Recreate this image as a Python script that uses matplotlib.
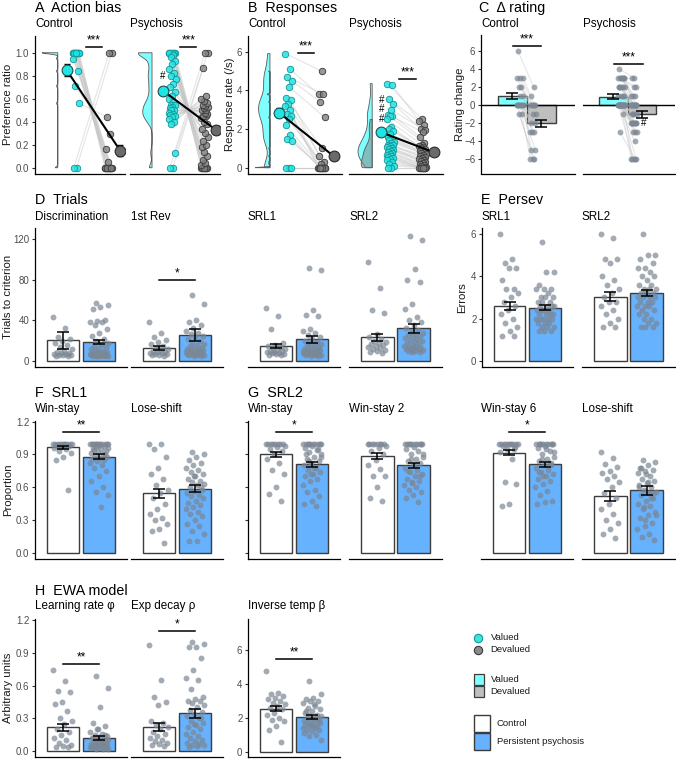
import numpy as np
import matplotlib
matplotlib.use('Agg')
import matplotlib.pyplot as plt
from matplotlib.colors import to_rgba
from matplotlib.patches import Rectangle

plt.rcParams['font.family'] = ['Liberation Sans', 'DejaVu Sans']

# ---------------- data ----------------
# A  Action bias (preference ratio), paired valued / devalued
A_ctrl_val = [1, 1, 1, 1, 1, 1, 1, 1, 1, 1, 1, 1, 1, 0.95, 0.84, 0.71, 0.56, 0, 0]
A_ctrl_dev = [0, 0, 0, 0, 0, 0, 0, 0, 0, 0, 0, 0, 0, 0.05, 0.16, 0.29, 0.44, 1, 1]
A_psy_val = [1, 1, 1, 1, 1, 1, 1, 1, 1, 0.98, 0.96, 0.93, 0.90, 0.86, 0.82, 0.80, 0.77, 0.73,
             0.70, 0.66, 0.62, 0.60, 0.57, 0.55, 0.55, 0.53, 0.52, 0.50, 0.50, 0.48, 0.47,
             0.46, 0.45, 0.44, 0.42, 0.40, 0.38, 0.13, 0, 0]
A_psy_dev = [0, 0, 0, 0, 0, 0, 0, 0, 0, 0.02, 0.04, 0.07, 0.10, 0.14, 0.18, 0.20, 0.23, 0.27,
             0.30, 0.34, 0.38, 0.40, 0.43, 0.45, 0.45, 0.47, 0.48, 0.50, 0.50, 0.52, 0.53,
             0.54, 0.55, 0.56, 0.58, 0.60, 0.62, 0.87, 1, 1]
A_means = {'Control': [0.85, 0.15], 'Psychosis': [0.67, 0.33]}
A_se = {'Control': [0.05, 0.05], 'Psychosis': [0.035, 0.035]}

# B  Responses (response rate /s)
B_ctrl_val = [5.9, 5.1, 4.7, 4.5, 4.2, 3.6, 3.5, 3.3, 3.2, 3.0, 2.8, 2.7, 2.5, 2.2, 1.7, 1.5,
              1.4, 0, 0, 0]
B_ctrl_dev = [5.0, 3.8, 3.8, 3.4, 2.6, 1.0, 0.6, 0.3, 0.2, 0, 0, 0, 0, 0, 0, 0, 0, 0, 0, 0]
B_psy_val = [4.35, 4.3, 3.55, 3.3, 3.0, 2.75, 2.7, 2.65, 2.5, 2.1, 2.0, 1.9, 1.75, 1.6, 1.5,
             1.45, 1.35, 1.3, 1.2, 1.15, 1.1, 1.05, 1.0, 0.95, 0.9, 0.85, 0.8, 0.75, 0.7,
             0.65, 0.6, 0.55, 0.5, 0.45, 0.4, 0.3, 0.2, 0.1, 0, 0]
B_psy_dev = [2.5, 2.4, 2.2, 2.0, 1.95, 1.85, 1.6, 1.3, 1.2, 1.1, 1.05, 1.0, 0.95, 0.9, 0.85,
             0.8, 0.75, 0.7, 0.65, 0.6, 0.55, 0.5, 0.45, 0.4, 0.35, 0.3, 0.25, 0.2, 0.15,
             0.1, 0.05, 0, 0, 0, 0, 0, 0, 0, 0, 0]
B_means = {'Control': [2.85, 0.6], 'Psychosis': [1.83, 0.8]}
B_se = {'Control': [0.25, 0.2], 'Psychosis': [0.15, 0.1]}

# C  Delta rating
C_ctrl_val = [6, 3, 3, 3, 2, 2, 1, 1, 0, 0, 0, 0, 0, 0, 0, 0, 0, -1, -1]
C_ctrl_dev = [2, 1, 0, 0, 0, 0, 0, -1, -1, -2, -2, -3, -3, -3, -5, -5, -6, -6, -6]
C_psy_val = [4, 3, 3, 3, 3, 3, 3, 3, 2, 2, 2, 2, 2, 2, 1, 1, 1, 1, 0, 0, 0, 0, 0, 0, 0, 0,
             0, 0, 0, 0, 0, 0, 0, 0, 0, 0, 0, 0, -1, -3]
C_psy_dev = [3, 3, 2, 2, 1, 1, 1, 0, 0, 0, 0, 0, 0, 0, 0, 0, 0, 0, 0, -1, -1, -1, -1, -2,
             -2, -2, -2, -2, -2, -2, -2, -3, -3, -3, -4, -6, -6, -6, -6, -6]
C_means = {'Control': [1.0, -2.05], 'Psychosis': [0.93, -1.05]}
C_se = {'Control': [0.3, 0.35], 'Psychosis': [0.25, 0.35]}

# D  Trials to criterion (control, psychosis)
D_disc = ([43, 33, 24, 22, 20, 18, 16, 14, 12, 10, 9, 8, 8, 7, 7, 6, 6, 6, 5, 5],
          [57, 55, 53, 51, 40, 39, 38, 38, 35, 32, 28, 25, 22, 20, 18, 16, 15, 14, 12, 12,
           10, 10, 9, 9, 8, 8, 8, 7, 7, 7, 6, 6, 6, 6, 5, 5, 5, 5, 5, 5])
D_rev = ([38, 28, 24, 21, 19, 17, 15, 13, 12, 11, 10, 9, 9, 8, 8, 7, 7, 6, 6, 5],
         [65, 56, 40, 38, 35, 33, 30, 28, 27, 25, 24, 22, 20, 18, 17, 16, 15, 14, 13, 12,
          12, 11, 11, 10, 10, 10, 9, 9, 9, 8, 8, 8, 7, 7, 7, 6, 6, 6, 5, 5])
D_srl1 = ([52, 44, 32, 18, 16, 15, 14, 13, 12, 11, 10, 10, 9, 9, 8, 8, 7, 7, 6, 6],
          [92, 90, 50, 45, 44, 32, 30, 28, 26, 24, 22, 20, 19, 18, 17, 16, 15, 14, 13, 12,
           12, 11, 11, 10, 10, 10, 9, 9, 9, 8, 8, 8, 7, 7, 7, 6, 6, 6, 5, 5])
D_srl2 = ([98, 72, 50, 47, 27, 24, 22, 20, 19, 18, 17, 16, 15, 14, 13, 12, 11, 10, 9, 8],
          [123, 119, 91, 80, 78, 56, 51, 43, 40, 38, 35, 33, 31, 29, 28, 27, 26, 25, 24,
           23, 22, 21, 20, 19, 18, 17, 16, 15, 15, 14, 13, 13, 12, 12, 11, 11, 10, 10, 9, 9])
D_means = [(20.4, 18.4), (13.1, 25.6), (14.8, 21.4), (23.3, 32.2)]
D_se = [(8.2, 2.0), (2.0, 5.5), (2.3, 3.2), (3.7, 4.2)]

# E  Perseverative errors
E_srl1 = ([6.0, 4.8, 4.6, 4.4, 4.4, 3.8, 3.4, 3.4, 3.2, 3.0, 2.8, 2.6, 2.4, 2.2, 2.0, 1.8,
           1.6, 1.4, 1.2, 1.2],
          [5.6, 4.2, 4.2, 3.6, 3.4, 3.4, 3.4, 3.2, 3.0, 3.0, 3.0, 2.8, 2.8, 2.8, 2.6, 2.6,
           2.6, 2.6, 2.4, 2.4, 2.4, 2.4, 2.2, 2.2, 2.2, 2.2, 2.0, 2.0, 2.0, 2.0, 2.0, 1.8,
           1.8, 1.8, 1.6, 1.6, 1.6, 1.4, 1.4, 1.4])
E_srl2 = ([6.0, 5.8, 4.8, 4.8, 4.6, 4.0, 3.8, 3.6, 3.4, 3.2, 3.0, 2.8, 2.8, 2.6, 2.4, 2.2,
           2.0, 1.8, 1.6, 1.6],
          [6.0, 5.0, 5.0, 4.8, 4.6, 4.4, 4.4, 4.2, 4.0, 4.0, 3.8, 3.6, 3.6, 3.4, 3.4, 3.4,
           3.2, 3.2, 3.2, 3.0, 3.0, 3.0, 3.0, 2.8, 2.8, 2.8, 2.6, 2.6, 2.6, 2.4, 2.4, 2.2,
           2.2, 2.0, 2.0, 1.8, 1.8, 1.6, 1.6, 1.6])
E_means = [(2.6, 2.51), (3.02, 3.22)]
E_se = [(0.2, 0.13), (0.21, 0.14)]

# F / G  Win-stay, lose-shift proportions
F_ws = ([1, 1, 1, 1, 1, 1, 1, 1, 1, 1, 0.99, 0.98, 0.97, 0.96, 0.95, 0.93, 0.91, 0.88, 0.85,
         0.58],
        [1, 1, 1, 1, 1, 1, 1, 1, 1, 1, 1, 1, 0.98, 0.97, 0.96, 0.95, 0.94, 0.93, 0.92, 0.91,
         0.90, 0.89, 0.88, 0.87, 0.86, 0.85, 0.84, 0.82, 0.80, 0.78, 0.75, 0.70, 0.66, 0.60,
         0.56, 0.53, 0.42, 0.95, 0.9, 0.98])
F_ls = ([1.0, 1.0, 0.95, 0.88, 0.78, 0.72, 0.68, 0.62, 0.58, 0.55, 0.50, 0.45, 0.40, 0.36,
         0.32, 0.30, 0.27, 0.22, 0.20, 0.09],
        [0.92, 0.90, 0.88, 0.85, 0.82, 0.80, 0.78, 0.76, 0.74, 0.72, 0.70, 0.68, 0.66, 0.65,
         0.63, 0.62, 0.60, 0.58, 0.57, 0.55, 0.53, 0.52, 0.50, 0.48, 0.46, 0.44, 0.42, 0.40,
         0.38, 0.36, 0.34, 0.30, 0.27, 0.25, 0.20, 0.18, 0.11, 0.11, 0.60, 0.70])
G_ws = ([1, 1, 1, 1, 1, 1, 1, 1, 0.98, 0.97, 0.95, 0.93, 0.90, 0.86, 0.82, 0.76, 0.72, 0.60,
         0.54, 0.48],
        [1, 1, 1, 1, 1, 1, 1, 1, 1, 1, 0.98, 0.96, 0.94, 0.92, 0.90, 0.88, 0.86, 0.84, 0.82,
         0.80, 0.78, 0.76, 0.74, 0.72, 0.70, 0.68, 0.66, 0.62, 0.58, 0.56, 0.52, 0.48, 0.45,
         0.43, 0.84, 0.88, 0.78, 0.90, 0.95, 0.72])
G_ws2 = ([1, 1, 1, 1, 1, 1, 1, 1, 0.98, 0.96, 0.93, 0.90, 0.85, 0.80, 0.77, 0.70, 0.70, 0.60,
          0.50, 0.48],
         [1, 1, 1, 1, 1, 1, 1, 1, 1, 1, 0.97, 0.95, 0.93, 0.90, 0.88, 0.86, 0.84, 0.82, 0.80,
          0.78, 0.76, 0.74, 0.72, 0.70, 0.68, 0.66, 0.64, 0.62, 0.60, 0.58, 0.56, 0.53, 0.50,
          0.47, 0.86, 0.90, 0.80, 0.75, 0.70, 0.65])
G_ws6 = ([1, 1, 1, 1, 1, 1, 1, 1, 1, 1, 0.98, 0.97, 0.95, 0.92, 0.86, 0.65, 0.63, 0.45,
          0.43, 0.95],
         [1, 1, 1, 1, 1, 1, 1, 1, 1, 1, 0.98, 0.96, 0.93, 0.90, 0.88, 0.86, 0.84, 0.82, 0.80,
          0.78, 0.76, 0.74, 0.72, 0.70, 0.68, 0.66, 0.63, 0.60, 0.57, 0.53, 0.48, 0.47, 0.45,
          0.82, 0.86, 0.92, 0.95, 0.74, 0.80, 0.70])
G_ls = ([0.92, 0.87, 0.81, 0.79, 0.75, 0.73, 0.70, 0.68, 0.65, 0.60, 0.55, 0.50, 0.45, 0.40,
         0.36, 0.30, 0.28, 0.22, 0.18, 0.14],
        [0.85, 0.83, 0.80, 0.78, 0.76, 0.75, 0.73, 0.70, 0.68, 0.66, 0.64, 0.62, 0.60, 0.58,
         0.56, 0.55, 0.53, 0.50, 0.48, 0.45, 0.43, 0.40, 0.38, 0.35, 0.32, 0.28, 0.25, 0.22,
         0.18, 0.15, 0.12, 0.72, 0.60, 0.50, 0.42, 0.35, 0.65, 0.78, 0.55, 0.30])
F_means = [(0.965, 0.88), (0.545, 0.59)]
F_se = [(0.015, 0.02), (0.045, 0.03)]
G_means = [(0.90, 0.81), (0.885, 0.80), (0.918, 0.81), (0.52, 0.575)]
G_se = [(0.022, 0.022), (0.025, 0.02), (0.02, 0.022), (0.045, 0.04)]

# H  EWA model parameters
H_lr = ([0.74, 0.64, 0.55, 0.54, 0.45, 0.43, 0.37, 0.30, 0.28, 0.25, 0.20, 0.18, 0.15, 0.12,
         0.10, 0.08, 0.06, 0.05, 0.04, 0.04],
        [0.69, 0.58, 0.40, 0.26, 0.23, 0.20, 0.18, 0.16, 0.15, 0.14, 0.13, 0.12, 0.11, 0.10,
         0.10, 0.09, 0.09, 0.08, 0.08, 0.07, 0.07, 0.06, 0.06, 0.06, 0.05, 0.05, 0.05, 0.04,
         0.04, 0.04, 0.03, 0.03, 0.03, 0.02, 0.02, 0.02, 0.10, 0.12, 0.15, 0.20])
H_decay = ([0.97, 0.65, 0.50, 0.45, 0.42, 0.28, 0.26, 0.24, 0.22, 0.20, 0.18, 0.16, 0.14,
            0.12, 0.10, 0.09, 0.08, 0.07, 0.06, 0.05],
           [1.0, 0.98, 0.95, 0.95, 0.85, 0.74, 0.67, 0.65, 0.57, 0.50, 0.48, 0.46, 0.46, 0.44,
            0.42, 0.40, 0.38, 0.36, 0.34, 0.32, 0.30, 0.28, 0.26, 0.24, 0.22, 0.20, 0.18,
            0.16, 0.14, 0.12, 0.10, 0.09, 0.08, 0.07, 0.06, 0.06, 0.05, 0.04, 0.30, 0.25])
H_beta = ([4.8, 3.5, 3.4, 3.3, 3.2, 3.1, 3.0, 2.9, 2.8, 2.7, 2.6, 2.5, 2.3, 2.2, 2.0, 1.9,
           1.8, 1.5, 1.3, 0.6],
          [4.2, 3.4, 3.2, 3.1, 3.0, 3.0, 2.9, 2.7, 2.6, 2.5, 2.4, 2.3, 2.2, 2.2, 2.1, 2.0,
           2.0, 1.9, 1.9, 1.8, 1.8, 1.7, 1.7, 1.6, 1.6, 1.5, 1.5, 1.4, 1.4, 1.3, 1.3, 1.2,
           1.1, 1.0, 0.9, 0.7, 2.8, 2.4, 2.0, 1.6])
H_means = [(0.218, 0.121), (0.224, 0.348), (2.54, 2.05)]
H_se = [(0.035, 0.02), (0.035, 0.04), (0.14, 0.11)]

# ---------------- styling ----------------
CYAN = '#22e3e3'
CYAN_EDGE = '#179393'
GREY = '#7f7f7f'
GREY_EDGE = '#3a3a3a'
PT = '#7b8794'
BLUE = '#66b2ff'
BAR_EDGE = '#3d3d3d'
TICK_C = '#4d4d4d'

W, H = 676, 760
fig = plt.figure(figsize=(W / 100, H / 100), dpi=100)


def add_ax(x0, x1, y0, y1):
    return fig.add_axes([x0 / W, 1 - y1 / H, (x1 - x0) / W, (y1 - y0) / H])


def style(ax, ylim, ticks=None, labels=True, spine=True, fmt=None):
    ax.set_ylim(*ylim)
    for s in ['top', 'right']:
        ax.spines[s].set_visible(False)
    ax.spines['bottom'].set_linewidth(0.9)
    ax.set_xticks([])
    if spine:
        ax.spines['left'].set_linewidth(0.9)
        ax.set_yticks(ticks)
        if labels:
            if fmt:
                ax.set_yticklabels([fmt.format(t) for t in ticks])
        else:
            ax.set_yticklabels([])
        ax.tick_params(axis='y', length=2.5, width=0.8, color='#333333',
                       labelsize=7, labelcolor=TICK_C, pad=1.5)
    else:
        ax.spines['left'].set_visible(False)
        ax.set_yticks([])
    ax.patch.set_alpha(0)


def jit(n, w, phase=0.0):
    k = (np.arange(n) * 0.6180339887 + phase) % 1.0
    return (k - 0.5) * 2 * w


def half_violin(ax, data, edge, width, bw, color, alpha, z=1):
    d = np.asarray(data, float)
    y = np.linspace(d.min(), d.max(), 300)
    dens = np.exp(-0.5 * ((y[:, None] - d[None, :]) / bw) ** 2).sum(1)
    dens = dens / dens.max() * width
    xs = np.concatenate([[edge], edge - dens, [edge]])
    ys = np.concatenate([[y[0]], y, [y[-1]]])
    ax.fill(xs, ys, facecolor=to_rgba(color, alpha), edgecolor='#5a5a5a', lw=0.6, zorder=z)


def paired(ax, val, dev, m, se):
    val = np.asarray(val, float)
    dev = np.asarray(dev, float)
    n = len(val)
    xv = 1.0 + jit(n, 0.11, 0.1)
    xd = 2.0 + jit(n, 0.11, 0.45)
    for a, b, c, d in zip(xv, val, xd, dev):
        ax.plot([a, c], [b, d], color='#c4c4c4', lw=0.8, alpha=0.45, zorder=1)
    ax.scatter(xv, val, s=22, facecolor=to_rgba(CYAN, 0.85), edgecolor=CYAN_EDGE, lw=0.6, zorder=3)
    ax.scatter(xd, dev, s=22, facecolor=to_rgba(GREY, 0.8), edgecolor=GREY_EDGE, lw=0.6, zorder=3)
    mx = [0.72, 2.35]
    ax.plot(mx, m, color='black', lw=1.5, zorder=4)
    ax.errorbar(mx, m, yerr=se, fmt='none', ecolor='black', elinewidth=1, capsize=2, zorder=4)
    ax.scatter(mx[0], m[0], s=60, facecolor='#1fe5e5', edgecolor='#1f4f4f', lw=0.8, zorder=5)
    ax.scatter(mx[1], m[1], s=60, facecolor='#6a6a6a', edgecolor='#2a2a2a', lw=0.8, zorder=5)
    return mx


def rating(ax, val, dev, m, se):
    val = np.asarray(val, float)
    dev = np.asarray(dev, float)
    ax.bar([1, 2], m, width=1.0, color=['#80ffff', '#bfbfbf'], edgecolor=BAR_EDGE, lw=1.0, zorder=1)
    ax.axhline(0, color='black', lw=1.0, zorder=2)
    n = len(val)
    xv = 1.28 + jit(n, 0.13, 0.2)
    xd = 1.72 + jit(n, 0.11, 0.6)
    for a, b, c, d in zip(xv, val, xd, dev):
        ax.plot([a, c], [b, d], color='#c8c8c8', lw=0.8, alpha=0.45, zorder=2)
    ax.scatter(xv, val, s=18, color=PT, alpha=0.7, lw=0, zorder=3)
    ax.scatter(xd, dev, s=18, color=PT, alpha=0.7, lw=0, zorder=3)
    ax.errorbar([1, 2], m, yerr=se, fmt='none', ecolor='black', elinewidth=1.1,
                capsize=4, capthick=1.1, zorder=4)
    ax.set_xlim(-0.07, 3.17)


def bars(ax, data, means, ses):
    ax.bar([0, 1], means, width=0.89, color=['white', BLUE], edgecolor=BAR_EDGE, lw=1.0, zorder=1)
    for i, d in enumerate(data):
        x = i + jit(len(d), 0.27, 0.33 * i)
        ax.scatter(x, d, s=18, color=PT, alpha=0.7, lw=0, zorder=2)
    ax.errorbar([0, 1], means, yerr=ses, fmt='none', ecolor='black', elinewidth=1.1,
                capsize=4, capthick=1.1, zorder=3)
    ax.set_xlim(-0.78, 1.78)


def sig(ax, x0, x1, y, txt):
    ax.plot([x0, x1], [y, y], color='black', lw=1.1, zorder=6)
    ax.annotate(txt, ((x0 + x1) / 2, y), xytext=(0, 0.3), textcoords='offset points',
                ha='center', va='bottom', fontsize=8.5, zorder=6)


def ftext(x, y, s, size, **kw):
    fig.text(x / W, 1 - y / H, s, fontsize=size, va='baseline', ha='left', **kw)


def ylab(x, y0, y1, s):
    fig.text(x / W, 1 - (y0 + y1) / 2 / H, s, rotation=90, fontsize=8.2,
             ha='center', va='center', color='#1a1a1a')


TITLE = 10.3
SUB = 8.4

# ---------------- row 1 ----------------
r1 = (35.5, 173.5)
A_lim = (-0.05, 1.15)
B_lim = (-0.3, 6.84)
C_lim = (-7.61, 7.72)

ftext(35, 12, 'A  Action bias', TITLE)
ftext(248, 12, 'B  Responses', TITLE)
ftext(479, 12, 'C  \u0394 rating', TITLE)

# A
axA1 = add_ax(34.5, 125, *r1)
half_violin(axA1, A_ctrl_val, 0.45, 0.48, 0.01, '#00ffff', 0.5)
paired(axA1, A_ctrl_val, A_ctrl_dev, A_means['Control'], A_se['Control'])
sig(axA1, 1.3, 1.79, 1.05, '***')
axA1.set_xlim(-0.26, 2.5)
style(axA1, A_lim, [0, 0.2, 0.4, 0.6, 0.8, 1.0], fmt='{:.1f}')

axA2 = add_ax(130, 220, *r1)
half_violin(axA2, A_psy_val, 0.38, 0.42, 0.035, '#00ffff', 0.5)
mx = paired(axA2, A_psy_val, A_psy_dev, A_means['Psychosis'], A_se['Psychosis'])
sig(axA2, 1.25, 1.75, 1.05, '***')
axA2.annotate('#', (mx[0], A_means['Psychosis'][0]), xytext=(0, 10.5), textcoords='offset points',
              ha='center', va='center', fontsize=7)
axA2.set_xlim(-0.3, 2.48)
style(axA2, A_lim, spine=False)

ftext(35, 27.3, 'Control', SUB)
ftext(130, 27.3, 'Psychosis', SUB)
ylab(8, *r1, 'Preference ratio')

# B
axB1 = add_ax(247.5, 342, *r1)
half_violin(axB1, B_ctrl_val, 0.45, 0.34, 0.45, '#00ffff', 0.5)
half_violin(axB1, B_ctrl_dev, 0.45, 0.44, 0.03, GREY, 0.5, z=2)
paired(axB1, B_ctrl_val, B_ctrl_dev, B_means['Control'], B_se['Control'])
sig(axB1, 1.29, 1.76, 5.92, '***')
axB1.set_xlim(-0.22, 2.6)
style(axB1, B_lim, [0, 2, 4, 6])

axB2 = add_ax(349, 443, *r1)
half_violin(axB2, B_psy_val, 0.44, 0.44, 0.35, '#00ffff', 0.5)
half_violin(axB2, B_psy_dev, 0.44, 0.34, 0.3, GREY, 0.5, z=2)
mx = paired(axB2, B_psy_val, B_psy_dev, B_means['Psychosis'], B_se['Psychosis'])
sig(axB2, 1.28, 1.81, 4.59, '***')
for off in (9.8, 16.6, 23.3):
    axB2.annotate('#', (mx[0], B_means['Psychosis'][0]), xytext=(0.5, off), textcoords='offset points',
                  ha='center', va='center', fontsize=7, zorder=7)
axB2.set_xlim(-0.28, 2.64)
style(axB2, B_lim, spine=False)

ftext(248, 27.3, 'Control', SUB)
ftext(349, 27.3, 'Psychosis', SUB)
ylab(230, *r1, 'Response rate (/s)')

# C
axC1 = add_ax(481, 575, *r1)
rating(axC1, C_ctrl_val, C_ctrl_dev, C_means['Control'], C_se['Control'])
sig(axC1, 1.03, 2.0, 6.55, '***')
style(axC1, C_lim, [-6, -4, -2, 0, 2, 4, 6])

axC2 = add_ax(583, 675, *r1)
rating(axC2, C_psy_val, C_psy_dev, C_means['Psychosis'], C_se['Psychosis'])
sig(axC2, 1.03, 2.03, 4.6, '***')
axC2.annotate('#', (2.0, C_means['Psychosis'][1] - C_se['Psychosis'][1]), xytext=(1.5, -4),
              textcoords='offset points', ha='center', va='center', fontsize=7)
style(axC2, C_lim, spine=False)

ftext(481, 27.3, 'Control', SUB)
ftext(583, 27.3, 'Psychosis', SUB)
ylab(460, *r1, 'Rating change')

# ---------------- row 2 ----------------
r2 = (228, 366.7)
D_lim = (-5.6, 131)
E_lim = (-0.27, 6.27)
ftext(35, 204, 'D  Trials', TITLE)
ftext(481, 204, 'E  Persev', TITLE)

D_names = ['Discrimination', '1st Rev', 'SRL1', 'SRL2']
D_x = [(35, 127), (131, 223), (248, 340), (349, 442)]
D_data = [D_disc, D_rev, D_srl1, D_srl2]
for i in range(4):
    ax = add_ax(D_x[i][0], D_x[i][1], *r2)
    bars(ax, D_data[i], D_means[i], D_se[i])
    if i == 1:
        sig(ax, 0, 1, 80, '*')
    if i == 0:
        style(ax, D_lim, [0, 40, 80, 120])
    else:
        style(ax, D_lim, spine=False)
    ftext(D_x[i][0], 220, D_names[i], SUB)
ylab(8, *r2, 'Trials to criterion')

E_names = ['SRL1', 'SRL2']
E_x = [(482, 572.7), (582, 675)]
E_data = [E_srl1, E_srl2]
for i in range(2):
    ax = add_ax(E_x[i][0], E_x[i][1], *r2)
    bars(ax, E_data[i], E_means[i], E_se[i])
    if i == 0:
        style(ax, E_lim, [0, 2, 4, 6])
    else:
        style(ax, E_lim, spine=False)
    ftext(E_x[i][0], 220, E_names[i], SUB)
ylab(462, *r2, 'Errors')

# ---------------- row 3 ----------------
r3 = (421, 559.3)
P_lim = (-0.055, 1.205)
P_ticks = [0, 0.3, 0.6, 0.9, 1.2]
ftext(35, 396.5, 'F  SRL1', TITLE)
ftext(248, 396.5, 'G  SRL2', TITLE)

F_names = ['Win-stay', 'Lose-shift']
F_x = [(35, 127), (131, 223)]
F_data = [F_ws, F_ls]
for i in range(2):
    ax = add_ax(F_x[i][0], F_x[i][1], *r3)
    bars(ax, F_data[i], F_means[i], F_se[i])
    if i == 0:
        sig(ax, 0, 1, 1.105, '**')
        style(ax, P_lim, P_ticks, fmt='{:.1f}')
    else:
        style(ax, P_lim, spine=False)
    ftext(F_x[i][0], 412, F_names[i], SUB)
ylab(8, *r3, 'Proportion')

G_names = ['Win-stay', 'Win-stay 2', 'Win-stay 6', 'Lose-shift']
G_x = [(248, 340), (349, 442), (481, 572.7), (582, 675)]
G_data = [G_ws, G_ws2, G_ws6, G_ls]
for i in range(4):
    ax = add_ax(G_x[i][0], G_x[i][1], *r3)
    bars(ax, G_data[i], G_means[i], G_se[i])
    if i in (0, 2):
        sig(ax, 0, 1, 1.105, '*')
    if i == 0:
        style(ax, P_lim, P_ticks, labels=False)
    else:
        style(ax, P_lim, spine=False)
    ftext(G_x[i][0], 412, G_names[i], SUB)

# ---------------- row 4 ----------------
r4 = (619.3, 757.3)
ftext(35, 595, 'H  EWA model', TITLE)
H_names = ['Learning rate \u03c6', 'Exp decay \u03c1', 'Inverse temp \u03b2']
H_x = [(35, 127), (131, 223), (248, 340)]
H_data = [H_lr, H_decay, H_beta]
H_sig = [(0.80, '**'), (1.10, '*'), (5.5, '**')]
for i in range(3):
    ax = add_ax(H_x[i][0], H_x[i][1], *r4)
    bars(ax, H_data[i], H_means[i], H_se[i])
    sig(ax, 0, 1, H_sig[i][0], H_sig[i][1])
    if i == 0:
        style(ax, P_lim, P_ticks, fmt='{:.1f}')
    elif i == 1:
        style(ax, P_lim, spine=False)
    else:
        style(ax, (-0.33, 7.83), [0, 2, 4, 6])
    ftext(H_x[i][0], 609.5, H_names[i], SUB)
ylab(8, *r4, 'Arbitrary units')

# ---------------- legends ----------------
lg = fig.add_axes([460 / W, 0, 216 / W, 140 / H])
lg.set_xlim(460, 676)
lg.set_ylim(760, 620)
lg.axis('off')
lg.scatter([478], [637.7], s=36, facecolor=to_rgba(CYAN, 0.9), edgecolor=CYAN_EDGE, lw=0.8)
lg.scatter([478], [650], s=36, facecolor=to_rgba(GREY, 0.9), edgecolor=GREY_EDGE, lw=0.8)
lg.add_patch(Rectangle((473.5, 674), 10.5, 11, facecolor='#80ffff', edgecolor=BAR_EDGE, lw=0.9))
lg.add_patch(Rectangle((473.5, 686), 10.5, 11, facecolor='#bfbfbf', edgecolor=BAR_EDGE, lw=0.9))
lg.add_patch(Rectangle((473.5, 715), 16.5, 16.5, facecolor='white', edgecolor=BAR_EDGE, lw=1.0))
lg.add_patch(Rectangle((473.5, 733.3), 16.5, 16.5, facecolor=BLUE, edgecolor=BAR_EDGE, lw=1.0))
for x, y, s in [(490.5, 637.7, 'Valued'), (490.5, 650, 'Devalued'),
                (490.5, 679.5, 'Valued'), (490.5, 691.5, 'Devalued'),
                (496.5, 723.5, 'Control'), (496.5, 741.5, 'Persistent psychosis')]:
    lg.text(x, y, s, fontsize=6.8, va='center', ha='left', color='#1a1a1a')

fig.savefig('out.png', dpi=100)
